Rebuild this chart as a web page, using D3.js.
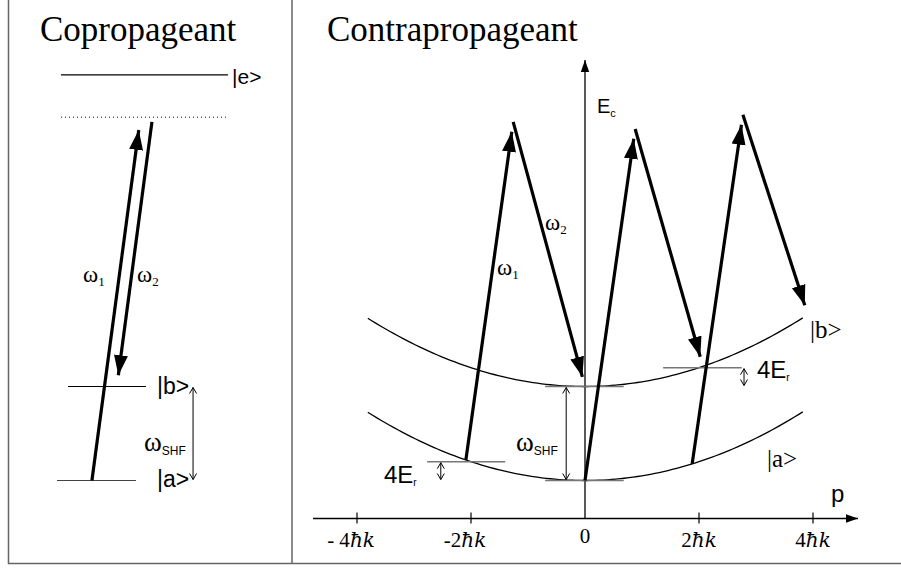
<!DOCTYPE html>
<html>
<head>
<meta charset="utf-8">
<script src="https://cdn.jsdelivr.net/npm/d3@7"></script>
<style>
  body { margin: 0; background: #fff; }
  svg { display: block; }
  .serif { font-family: "Liberation Serif", "Times New Roman", serif; }
  .sans { font-family: "Liberation Sans", Arial, sans-serif; }
  .hbar { font-family: "DejaVu Serif", serif; font-style: italic; }
</style>
</head>
<body>
<script>
// momentum axis (units of hbar k)
var momentumTicks = [-4, -2, 0, 2, 4];
var tickLabels = ["- 4", "-2", "0", "2", "4"];

// energies in units of E_r
var shf = 20;                 // |b> - |a> splitting
var curveRange = [-3.81, 3.82];

// contrapropageant transitions: up from |a>, apex, down to |b>
var upStartP = [-2.09, 0, 1.88];
var apexP = [-1.26, 0.88, 2.77];
var apexE = [76.3, 74.8, 77.8];
var downEndP = [0, 2.07, 3.91];

// copropageant levels: |a>, |b>, virtual, |e>
var coLevelE = [0, 20, 77.3, 86.3];
var coUp = {x0: 0.203, e0: 0, x1: 0.483, e1: 76.7};
var coDown = {x0: 0.552, e0: 76.3, x1: 0.349, e1: 20.3};

var width = 901, height = 568;

var svg = d3.select("body").append("svg")
    .attr("width", width)
    .attr("height", height);

var defs = svg.append("defs");
defs.append("marker")
    .attr("id", "big")
    .attr("viewBox", "-20 -8 20 16")
    .attr("refX", 0).attr("refY", 0)
    .attr("markerWidth", 20).attr("markerHeight", 16)
    .attr("markerUnits", "userSpaceOnUse")
    .attr("orient", "auto")
  .append("path")
    .attr("d", "M0,0L-20,-7L-20,7Z")
    .attr("fill", "#000");
defs.append("marker")
    .attr("id", "axisHead")
    .attr("viewBox", "-12 -5 12 10")
    .attr("refX", 0).attr("refY", 0)
    .attr("markerWidth", 12).attr("markerHeight", 10)
    .attr("markerUnits", "userSpaceOnUse")
    .attr("orient", "auto")
  .append("path")
    .attr("d", "M0,0L-12,-4.2L-12,4.2Z")
    .attr("fill", "#000");
defs.append("marker")
    .attr("id", "thin")
    .attr("viewBox", "-8 -5 9 10")
    .attr("refX", 0).attr("refY", 0)
    .attr("markerWidth", 9).attr("markerHeight", 10)
    .attr("markerUnits", "userSpaceOnUse")
    .attr("orient", "auto-start-reverse")
  .append("path")
    .attr("d", "M-6,-3.5L0,0L-6,3.5")
    .attr("fill", "none")
    .attr("stroke", "#000")
    .attr("stroke-width", 1);

// frame
var frame = svg.append("g").attr("stroke", "#666").attr("stroke-width", 1.5).attr("fill", "none");
frame.append("path").attr("d", "M8.5,0V563.5H901");
frame.append("path").attr("d", "M292,0V563.5");

// shared energy scale
var y = d3.scaleLinear().domain([0, 100]).range([480.5, 10.5]);
// momentum scale
var x = d3.scaleLinear().domain([-4, 4]).range([585 - 4 * 57, 585 + 4 * 57]);
// horizontal layout scale for the copropageant panel
var xc = d3.scaleLinear().domain([0, 1]).range([57, 229]);

function shorten(x0, y0, x1, y1, d) {
  var len = Math.hypot(x1 - x0, y1 - y0);
  return [x1 - (x1 - x0) * d / len, y1 - (y1 - y0) * d / len];
}

function bigArrow(g, x0, y0, x1, y1) {
  var e = shorten(x0, y0, x1, y1, 10);
  g.append("line")
      .attr("x1", x0).attr("y1", y0)
      .attr("x2", e[0]).attr("y2", e[1])
      .attr("stroke", "#000").attr("stroke-width", 3.2)
      .attr("marker-end", "url(#big)");
}
function dblArrow(g, xx, y0, y1) {
  g.append("line")
      .attr("x1", xx).attr("y1", y0)
      .attr("x2", xx).attr("y2", y1)
      .attr("stroke", "#000").attr("stroke-width", 1)
      .attr("marker-start", "url(#thin)")
      .attr("marker-end", "url(#thin)");
}
function omega(g, px, py, sub, size, subSans) {
  var t = g.append("text").attr("x", px).attr("y", py);
  t.append("tspan").attr("class", "serif").attr("font-size", size).text("ω");
  t.append("tspan").attr("class", subSans ? "sans" : "serif")
      .attr("font-size", subSans ? 12 : 13).attr("dy", 4).text(sub);
}
function fourEr(g, px, py) {
  var t = g.append("text").attr("x", px).attr("y", py).attr("class", "sans");
  t.append("tspan").attr("font-size", 24).text("4E");
  t.append("tspan").attr("font-size", 10).attr("dy", 3).text("r");
}

// ---------- Copropageant ----------
var co = svg.append("g");
co.append("text").attr("class", "serif").attr("x", 40).attr("y", 41)
    .attr("font-size", 35).text("Copropageant");

// levels
co.append("line").attr("x1", xc(0.023)).attr("x2", xc(0.994))
    .attr("y1", y(coLevelE[3])).attr("y2", y(coLevelE[3]))
    .attr("stroke", "#000").attr("stroke-width", 1.3);
co.append("line").attr("x1", xc(0.023)).attr("x2", xc(1))
    .attr("y1", y(coLevelE[2])).attr("y2", y(coLevelE[2]))
    .attr("stroke", "#000").attr("stroke-width", 1)
    .attr("stroke-dasharray", "1,3");
co.append("line").attr("x1", xc(0.064)).attr("x2", xc(0.517))
    .attr("y1", y(coLevelE[1])).attr("y2", y(coLevelE[1]))
    .attr("stroke", "#000").attr("stroke-width", 1);
co.append("line").attr("x1", xc(0)).attr("x2", xc(0.459))
    .attr("y1", y(coLevelE[0])).attr("y2", y(coLevelE[0]))
    .attr("stroke", "#444").attr("stroke-width", 1);

bigArrow(co, xc(coUp.x0), y(coUp.e0), xc(coUp.x1), y(coUp.e1));
bigArrow(co, xc(coDown.x0), y(coDown.e0), xc(coDown.x1), y(coDown.e1));
dblArrow(co, xc(0.791), y(coLevelE[1]) + 1, y(coLevelE[0]) - 1);

co.append("text").attr("class", "sans").attr("x", 232).attr("y", y(coLevelE[3]) + 9)
    .attr("font-size", 21).text("|e>");
co.append("text").attr("class", "sans").attr("x", 157).attr("y", y(coLevelE[1]) + 7)
    .attr("font-size", 23).text("|b>");
co.append("text").attr("class", "sans").attr("x", 157).attr("y", y(coLevelE[0]) + 6)
    .attr("font-size", 23).text("|a>");
omega(co, 83, 282, "1", 23, false);
omega(co, 137, 282, "2", 23, false);
omega(co, 144, 451, "SHF", 27, true);

// ---------- Contrapropageant ----------
var ct = svg.append("g");
ct.append("text").attr("class", "serif").attr("x", 327).attr("y", 41)
    .attr("font-size", 35).text("Contrapropageant");

// momentum axis
var axisY = 518.5;
ct.append("line").attr("x1", 313).attr("x2", 858)
    .attr("y1", axisY).attr("y2", axisY)
    .attr("stroke", "#000").attr("stroke-width", 1.3)
    .attr("marker-end", "url(#axisHead)");
ct.selectAll(".tick").data(momentumTicks.filter(function(d){ return d !== 0; }))
  .enter().append("line")
    .attr("x1", function(d){ return x(d); }).attr("x2", function(d){ return x(d); })
    .attr("y1", axisY - 6).attr("y2", axisY + 5)
    .attr("stroke", "#000").attr("stroke-width", 1.2);
ct.selectAll(".tl").data(momentumTicks)
  .enter().append("text")
    .attr("class", "serif")
    .attr("text-anchor", "middle")
    .attr("font-size", 21)
    .attr("x", function(d){ return x(d) + (d < 0 ? -6 : 0); })
    .attr("y", function(d){ return d === 0 ? 543 : 547; })
    .each(function(d, i) {
      var t = d3.select(this);
      t.append("tspan").text(tickLabels[i]);
      if (d !== 0) t.append("tspan").attr("class", "hbar").attr("font-size", 20).text("ħk");
    });
ct.append("text").attr("class", "sans").attr("x", 831).attr("y", 502)
    .attr("font-size", 24).text("p");

// energy axis
ct.append("line").attr("x1", x(0)).attr("x2", x(0))
    .attr("y1", axisY).attr("y2", 60)
    .attr("stroke", "#000").attr("stroke-width", 1.3)
    .attr("marker-end", "url(#axisHead)");
var ec = ct.append("text").attr("class", "sans").attr("x", 597).attr("y", 113);
ec.append("tspan").attr("font-size", 20).text("E");
ec.append("tspan").attr("font-size", 11).attr("dy", 4).text("c");

// dispersion curves
var pts = d3.range(0, 101).map(function(i){
  return curveRange[0] + (curveRange[1] - curveRange[0]) * i / 100;
});
var curve = function(base) {
  return d3.line()
      .x(function(p){ return x(p); })
      .y(function(p){ return y(base + p * p); })
      .curve(d3.curveBasis)(pts);
};
[0, shf].forEach(function(base) {
  ct.append("path").attr("d", curve(base))
      .attr("fill", "none").attr("stroke", "#000").attr("stroke-width", 1.3);
});

// reference lines (grey)
var grey = ct.append("g").attr("stroke", "#777").attr("stroke-width", 1.5);
grey.append("line").attr("x1", x(-0.7)).attr("x2", x(0.68))
    .attr("y1", y(shf)).attr("y2", y(shf));
grey.append("line").attr("x1", x(-0.7)).attr("x2", x(0.68))
    .attr("y1", y(0)).attr("y2", y(0));
grey.append("line").attr("x1", x(-2.77)).attr("x2", x(-1.4))
    .attr("y1", y(4)).attr("y2", y(4));
grey.append("line").attr("x1", x(1.37)).attr("x2", x(2.75))
    .attr("y1", y(shf + 4)).attr("y2", y(shf + 4));

dblArrow(ct, x(-0.33), y(shf) + 1, y(0) - 1);
dblArrow(ct, x(-2.53), y(4) + 1, y(0) - 1);
dblArrow(ct, x(2.79), y(shf + 4) + 1, y(shf) - 1);

// transitions
upStartP.forEach(function(p, i) {
  bigArrow(ct, x(p), y(p * p), x(apexP[i]), y(apexE[i]));
  bigArrow(ct, x(apexP[i]), y(apexE[i]), x(downEndP[i]), y(shf + downEndP[i] * downEndP[i]));
});

omega(ct, 497, 275, "1", 23, false);
omega(ct, 545, 230, "2", 23, false);
omega(ct, 516, 451, "SHF", 27, true);
fourEr(ct, 384, 483);
fourEr(ct, 757, 378);
ct.append("text").attr("class", "serif").attr("x", 810).attr("y", 338)
    .attr("font-size", 25).text("|b>");
ct.append("text").attr("class", "serif").attr("x", 767).attr("y", 467)
    .attr("font-size", 25).text("|a>");
</script>
</body>
</html>
